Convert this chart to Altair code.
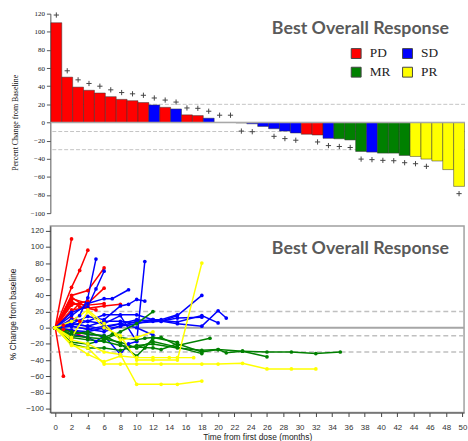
import altair as alt
import pandas as pd

# ---------------- Waterfall data (top panel) ----------------
bar_values = [110, 50, 39, 35.5, 32.5, 28.5, 25.5, 24, 22, 19.3, 16.7, 14.9, 8.4, 7.6, 4.7, 0, 0,
              -0.5, -1.5, -4.4, -6.9, -9.5, -11.6, -13, -13.8, -17.5, -18, -19.3, -32, -32.7,
              -33.8, -33.8, -36.4, -37.5, -40.4, -42.5, -52, -70.5]
bar_response = ["PD"] * 9 + ["SD", "PD", "SD", "PD", "PD", "SD", "SD", "SD"] + ["SD"] * 6 + \
               ["PD", "PD", "SD", "MR", "MR", "MR", "SD", "MR", "MR", "MR"] + ["PR"] * 5
plus_values = [118.5, 57, 47, 43, 40, 36, 33, 31.6, 30, 27, 24.7, 22.5, 16, 15.6, 12.4, 8, 8,
               -9.5, -10.2, None, -15.3, -17.8, -19.6, None, -21.5, -25.5, -26.5, -27.6, -40.4, -41,
               -41.8, -42.2, -44.4, -45.5, -48.4, None, None, -78.5]

# ---------------- Spider data (bottom panel) ----------------
spider_response = ["PD"] * 14 + ["SD"] * 13 + ["MR"] * 6 + ["PR"] * 5
spider_months = [
    [0, 2], [0, 1], [0, 2, 3, 4], [0, 2, 4, 6], [0, 2, 4, 6], [0, 2, 4, 6], [0, 2, 4, 6, 8],
    [0, 2, 3, 5], [0, 2, 4], [0, 1, 2, 3], [0, 2, 3], [0, 2, 4], [0, 1, 2], [0, 2, 4],
    [0, 2, 3, 4, 5], [0, 2, 4, 5, 6], [0, 2, 4, 6, 7, 9], [0, 2, 4, 6, 8, 9, 10, 11],
    [0, 2, 4, 6, 8, 10, 11], [0, 2, 4, 6, 8, 9, 10], [0, 2, 4, 6, 8, 10, 12, 13, 15, 18],
    [0, 2, 4, 6, 8, 10, 12, 15, 18, 20, 21], [0, 2, 4, 6, 8, 10, 12, 13, 15],
    [0, 2, 4, 6, 8, 10, 12], [0, 2, 4, 6, 8, 10, 12, 15, 18, 20], [0, 2, 4, 5, 6],
    [0, 2, 4, 6, 8, 10, 13, 15, 18],
    [0, 2, 4, 6, 8, 10, 12], [0, 2, 4, 6, 8, 10, 11, 12, 13, 15, 19],
    [0, 2, 4, 6, 8, 10, 12, 13, 15, 18, 20, 21, 23, 26, 29, 32, 35],
    [0, 2, 4, 6, 8, 10, 12, 15, 18, 20, 23, 26], [0, 2, 4, 6, 8, 10, 12, 15, 18],
    [0, 2, 4, 6, 7, 8, 10, 11, 12, 15],
    [0, 2, 4, 6, 8, 10, 12, 14, 15, 17], [0, 2, 4, 6, 8, 10, 13, 18, 20, 23, 26, 29, 32],
    [0, 2, 4, 6, 8, 10, 13, 15, 18], [0, 2, 4, 6, 8, 10, 12, 15, 18], [0, 2, 4, 6, 8, 10, 12],
]
spider_values = [
    [0, 110], [0, -60], [0, 50, 71, 96], [0, 40, 46, 74], [0, 36, 30, 49], [0, 30, 28, 30],
    [0, 38, 24, 27, 29], [0, 33, 26, 22], [0, 28, 33], [0, 3, 12, 8], [0, 20, 30], [0, 22, 25],
    [0, -2, -13], [0, -5, -13],
    [0, 8, 15, 37, 85], [0, 19, 26, 48, 70], [0, 15, 30, 36, 36, 47], [0, 5, 14, 10, 27, 29, 35, 33],
    [0, 3, 8, 5, 15, -17, 82], [0, -3, -8, -10, -33, -20, -17], [0, 2, -2, 2, 5, 10, 8, 8, 15, 40],
    [0, 5, 2, -2, 2, 8, 10, 5, 2, 21, 12], [0, 10, 8, 16, 16, 16, 10, 10, 16],
    [0, -3, -5, 0, 5, 0, -9], [0, 2, -2, -5, 2, 5, 10, 7, 15, 6], [0, -8, -12, -17, -10],
    [0, 5, 2, 8, 8, 6, 8, 12, 13],
    [0, -18, -20, -15, -5, 5, 20], [0, -5, -8, -10, -20, -35, -25, -13, -12, -22, -13],
    [0, -12, -15, -17, -22, -24, -25, -27, -20, -30, -27, -31, -29, -30, -30, -32, -30],
    [0, -20, -25, -25, -28, -22, -20, -25, -28, -27, -29, -36], [0, -10, -12, -14, -18, -25, -17, -24, -32],
    [0, -8, -5, -12, -8, -12, -15, -13, -12, -18],
    [0, -20, -33, -42, -35, -37, -37, -37, -37, -37], [0, -22, -25, -45, -45, -45, -45, -45, -45, -44, -51, -51, -51],
    [0, -15, -20, -30, -33, -70, -70, -70, -66], [0, -12, 20, 0, -10, -40, -40, -40, 80], [0, 8, 22, 5, -15, -12, -5],
]

responses = ["PD", "SD", "MR", "PR"]
legend_order = ["PD", "MR", "SD", "PR"]
resp_colors = ["#FF0000", "#0000FF", "#008000", "#FFFF00"]
ref_lines = [20, -10, -30]
y_ticks = list(range(-100, 121, 20))
x_ticks = list(range(0, 51, 2))
legend_title = "Best Overall Response"

wf = pd.DataFrame({"pt": list(range(1, len(bar_values) + 1)), "pct": bar_values,
                   "resp": bar_response, "plus": plus_values})
rows = []
for i, (ms, vs) in enumerate(zip(spider_months, spider_values)):
    for m, v in zip(ms, vs):
        rows.append({"pid": i, "month": m, "pct": v, "resp": spider_response[i]})
sp = pd.DataFrame(rows)
refs = pd.DataFrame({"y": ref_lines})
zero = pd.DataFrame({"y": [0]})
ttl = pd.DataFrame({"t": [legend_title]})

color_scale = alt.Scale(domain=responses, range=resp_colors)

def make_legend(lx, ly):
    return alt.Legend(orient="none", legendX=lx, legendY=ly, columns=2, title=None,
                      values=legend_order,
                      symbolType="square", symbolSize=100, symbolStrokeColor="#444",
                      symbolStrokeWidth=1, symbolOpacity=1, labelFont="Liberation Serif",
                      labelFontSize=13.5, labelColor="#222", labelOffset=7, columnPadding=9,
                      rowPadding=4, padding=0)

top_axis = alt.Axis(values=y_ticks, title="Percent Change from Baseline", grid=False,
                    labelOverlap=False, labelSeparation=0,
                    labelFont="Liberation Serif", labelFontSize=7, labelColor="#111",
                    tickSize=4, tickColor="#555", domainColor="#555", labelPadding=2,
                    titleFont="Liberation Serif", titleFontSize=8, titleFontWeight="normal",
                    titleColor="#111", titlePadding=10.5, titleY=110)
bot_y_axis = alt.Axis(values=y_ticks, title="% Change from baseline", grid=False,
                      labelOverlap=False, labelSeparation=0,
                      labelFont="Liberation Sans", labelFontSize=8, labelColor="#333",
                      tickSize=5, tickColor="#444", domainColor="#444", labelPadding=2,
                      titleFont="Liberation Sans", titleFontSize=8.5, titleFontWeight="normal",
                      titleColor="#222", titlePadding=8, titleY=89)
bot_x_axis = alt.Axis(values=x_ticks, title="Time from first dose (months)", grid=False,
                      labelOverlap=False, labelSeparation=0,
                      labelFont="Liberation Sans", labelFontSize=8, labelColor="#333",
                      tickSize=4, tickColor="#444", domainColor="#444", labelPadding=7,
                      titleFont="Liberation Sans", titleFontSize=8.5, titleFontWeight="normal",
                      titleColor="#222", titlePadding=1.5)

# ---------------- Top panel ----------------
W1, H1 = 420, 202
top_sc = alt.Scale(domain=[-100, 120], nice=False, zero=False)
top_refs = alt.Chart(refs).mark_rule(color="#c4c4c4", strokeDash=[4, 2], strokeWidth=1).encode(
    y=alt.Y("y:Q", scale=top_sc, axis=top_axis))
bars = alt.Chart(wf).mark_bar(stroke="#333", strokeWidth=0.5).encode(
    x=alt.X("pt:O", axis=None, scale=alt.Scale(paddingInner=0, paddingOuter=0.05)),
    y=alt.Y("pct:Q", scale=top_sc, axis=top_axis),
    color=alt.Color("resp:N", scale=color_scale, legend=make_legend(303, 33.5)))
top_zero = alt.Chart(zero).mark_rule(color="#a8a8a8", strokeWidth=1.5).encode(
    y=alt.Y("y:Q", scale=top_sc, axis=top_axis))
plus = alt.Chart(wf).transform_filter("datum.plus != null").mark_point(
    shape="M-1,0L1,0M0,-1L0,1", filled=False, stroke="#444", strokeWidth=1, size=28, opacity=1).encode(
    x=alt.X("pt:O"), y=alt.Y("plus:Q", scale=top_sc, axis=top_axis))
top_title = alt.Chart(ttl).mark_text(font="Lato", fontWeight="bold", fontSize=18, color="#5a5a5a",
                                     align="center", baseline="middle").encode(
    text="t:N", x=alt.value(314), y=alt.value(16))
top = alt.layer(top_refs, bars, top_zero, plus, top_title).properties(
    width=W1, height=H1, view=alt.ViewBackground(stroke="transparent"))

# ---------------- Bottom panel ----------------
W2, H2 = 419, 189
ysc = alt.Scale(domain=[-105, 126], nice=False, zero=False)
xsc = alt.Scale(domain=[-0.6, 50.2], nice=False, zero=False)
bot_refs = alt.Chart(refs).mark_rule(color="#c0c0c0", strokeDash=[5, 3], strokeWidth=1.5).encode(
    y=alt.Y("y:Q", scale=ysc, axis=bot_y_axis))
bot_zero = alt.Chart(zero).mark_rule(color="#a6a6a6", strokeWidth=2).encode(
    y=alt.Y("y:Q", scale=ysc, axis=bot_y_axis))
lines = alt.Chart(sp).mark_line(strokeWidth=1.5).encode(
    x=alt.X("month:Q", scale=xsc, axis=bot_x_axis),
    y=alt.Y("pct:Q", scale=ysc, axis=bot_y_axis),
    color=alt.Color("resp:N", scale=color_scale, legend=None),
    detail="pid:N", order="month:Q")
pts = alt.Chart(sp).mark_circle(size=14, opacity=1).encode(
    x=alt.X("month:Q", scale=xsc, axis=bot_x_axis),
    y=alt.Y("pct:Q", scale=ysc, axis=bot_y_axis),
    color=alt.Color("resp:N", scale=color_scale, legend=make_legend(280, 42.5)))
bot_title = alt.Chart(ttl).mark_text(font="Lato", fontWeight="bold", fontSize=18, color="#5a5a5a",
                                     align="center", baseline="middle").encode(
    text="t:N", x=alt.value(314), y=alt.value(23))
bottom = alt.layer(bot_refs, bot_zero, lines, pts, bot_title).properties(
    width=W2, height=H2, view=alt.ViewBackground(stroke="#a0a0a0", strokeWidth=1.5))

chart = alt.vconcat(top, bottom, spacing=8).resolve_scale(
    color="independent").resolve_legend(color="independent").properties(
    padding={"left": 8, "top": 6, "right": 0, "bottom": 0},
    background="white").configure_axis(labelOverlap=False)

chart.save("out.html", embed_options={"renderer": "svg", "actions": False})
